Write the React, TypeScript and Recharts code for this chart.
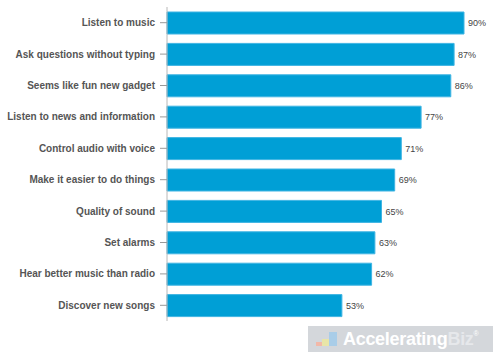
import { Bar, BarChart, LabelList, XAxis, YAxis } from "recharts";

const reasons = [
  "Listen to music",
  "Ask questions without typing",
  "Seems like fun new gadget",
  "Listen to news and information",
  "Control audio with voice",
  "Make it easier to do things",
  "Quality of sound",
  "Set alarms",
  "Hear better music than radio",
  "Discover new songs",
];

const shares = [90, 87, 86, 77, 71, 69, 65, 63, 62, 53];

const data = reasons.map((reason, i) => ({ reason, share: shares[i] }));

const FONT = "'Liberation Sans', Arial, Helvetica, sans-serif";

// single-line tick so long reasons don't wrap
function ReasonTick({ x, y, payload }: any) {
  return (
    <text
      x={x}
      y={y}
      dy={3.5}
      textAnchor="end"
      fill="#555"
      fontSize={10}
      fontWeight={700}
      fontFamily={FONT}
    >
      {payload.value}
    </text>
  );
}

export default function App() {
  return (
    <div style={{ position: "absolute", left: 0, top: 0, width: 500, height: 358, background: "#fff" }}>
      <BarChart
        width={500}
        height={358}
        data={data}
        layout="vertical"
        margin={{ top: 7, right: 3, left: 0, bottom: 37 }}
        barSize={22}
      >
        <XAxis type="number" domain={[0, 100]} hide />
        <YAxis
          type="category"
          dataKey="reason"
          width={167}
          tickSize={7}
          tickMargin={5}
          axisLine={{ stroke: "#b8b8b8" }}
          tickLine={{ stroke: "#999" }}
          tick={<ReasonTick />}
        />
        <Bar dataKey="share" fill="#009fd6" stroke="#3fb4e3" strokeWidth={1} isAnimationActive={false}>
          <LabelList
            dataKey="share"
            position="right"
            offset={4}
            formatter={(v: number) => `${v}%`}
            style={{ fill: "#444", fontSize: 9, fontFamily: FONT }}
          />
        </Bar>
      </BarChart>
      <div
        style={{
          position: "absolute",
          left: 308,
          top: 326,
          width: 185,
          height: 26,
          background: "#d4d7db",
          display: "flex",
          alignItems: "center",
          fontFamily: FONT,
          overflow: "hidden",
        }}
      >
        <div style={{ position: "relative", width: 22, height: 18, marginLeft: 8, marginRight: 5 }}>
          <div style={{ position: "absolute", left: 0, bottom: 2, width: 6, height: 4, background: "#f2b8a8" }} />
          <div style={{ position: "absolute", left: 6, bottom: 2, width: 7, height: 7, background: "#e8e5a8" }} />
          <div style={{ position: "absolute", left: 13, bottom: 2, width: 8, height: 14, background: "#a9cde8" }} />
        </div>
        <span style={{ color: "#fff", fontSize: 18, fontWeight: 700, letterSpacing: -0.3 }}>Accelerating</span>
        <span style={{ color: "#e6e8eb", fontSize: 18, fontWeight: 700, letterSpacing: -0.3 }}>Biz</span>
        <span style={{ color: "#fff", fontSize: 7, alignSelf: "flex-start", marginTop: 4 }}>®</span>
      </div>
    </div>
  );
}
